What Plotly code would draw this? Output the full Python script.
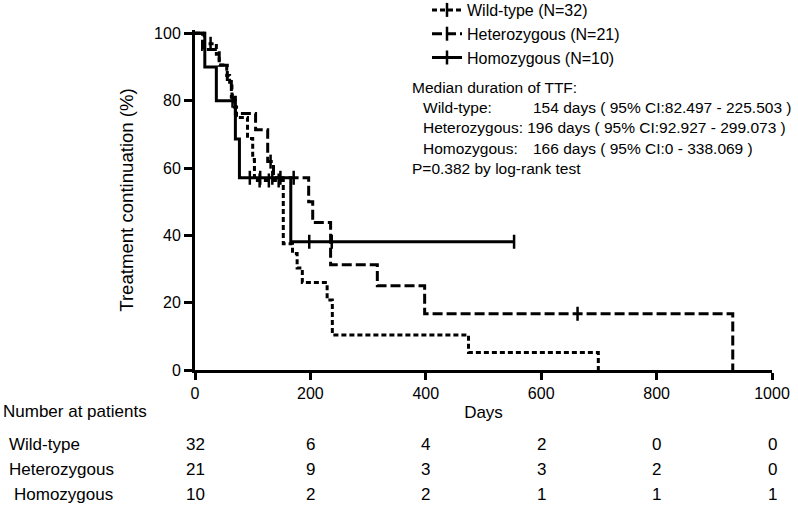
import plotly.graph_objects as go

# ---------------- data ----------------
wt_days = [0, 16, 37, 42, 55, 60, 64, 68, 72, 91, 100, 103, 153, 169, 177, 186, 229, 238, 474, 699]
wt_surv = [100, 96.9, 93.8, 90.6, 87.5, 84.4, 81.3, 78.1, 75.0, 68.8, 62.5, 56.3, 37.5, 34.6, 30.3, 26.0, 20.8, 10.4, 5.2, 0]
wt_cens_days = [27, 112, 128, 145]
wt_cens_surv = [96.9, 56.3, 56.3, 56.3]

het_days = [0, 13, 42, 56, 63, 70, 105, 126, 136, 197, 204, 235, 316, 398, 932]
het_surv = [100, 95.2, 90.5, 85.7, 81.0, 76.2, 71.4, 61.9, 57.1, 50.0, 43.8, 31.3, 25.0, 16.7, 0]
het_cens_days = [131, 148, 171, 663]
het_cens_surv = [61.9, 57.1, 57.1, 16.7]

homo_days = [0, 17, 37, 70, 77, 166, 553]
homo_surv = [100, 90, 80, 68.6, 57.1, 38.1, 38.1]
homo_cens_days = [65, 95, 113, 134, 198, 237, 553]
homo_cens_surv = [80, 57.1, 57.1, 57.1, 38.1, 38.1, 38.1]

group_names = ["Wild-type (N=32)", "Heterozygous (N=21)", "Homozygous (N=10)"]
row_labels = ["Wild-type", "Heterozygous", "Homozygous"]
risk_times = [0, 200, 400, 600, 800, 1000]
risk_wt = [32, 6, 4, 2, 0, 0]
risk_het = [21, 9, 3, 3, 2, 0]
risk_homo = [10, 2, 2, 1, 1, 1]

median_lines = [
    ("Wild-type:", "154 days ( 95% CI:82.497 - 225.503 )"),
    ("Heterozygous: 196 days ( 95% CI:92.927 - 299.073 )", ""),
    ("Homozygous:", "166 days ( 95% CI:0 - 338.069 )"),
]

FONT = "Arial, Liberation Sans, sans-serif"
dashes = ["5px,3px", "10px,4px", "solid"]
series = [
    (wt_days, wt_surv, wt_cens_days, wt_cens_surv),
    (het_days, het_surv, het_cens_days, het_cens_surv),
    (homo_days, homo_surv, homo_cens_days, homo_cens_surv),
]

fig = go.Figure()
for (d, s, cd, cs), dash in zip(series, dashes):
    fig.add_trace(go.Scatter(x=d, y=s, mode="lines", line=dict(color="black", width=3, dash=dash, shape="hv"),
                             showlegend=False, hoverinfo="skip"))
    fig.add_trace(go.Scatter(x=cd, y=cs, mode="markers", showlegend=False, cliponaxis=False,
                             marker=dict(symbol="line-ns", size=10, line=dict(color="black", width=2.5))))
# legend entries
for name, dash in zip(group_names, dashes):
    fig.add_trace(go.Scatter(x=[None], y=[None], mode="lines+markers", name=name,
                             line=dict(color="black", width=3, dash=dash),
                             marker=dict(symbol="line-ns", size=10, color="black", line=dict(color="black", width=2.5))))

# plot geometry helpers (for paper coords of text)
L, R, T, B = 195, 772, 30, 370
def px2x(px):
    return (px - L) / (R - L)
def py2y(py):
    return (B - py) / (B - T)

ann = []
ann.append(dict(x=px2x(410), y=py2y(88), text="Median duration of TTF:"))
ann.append(dict(x=px2x(421), y=py2y(108), text=median_lines[0][0]))
ann.append(dict(x=px2x(531), y=py2y(108), text=median_lines[0][1]))
ann.append(dict(x=px2x(421), y=py2y(128), text=median_lines[1][0]))
ann.append(dict(x=px2x(421), y=py2y(148), text=median_lines[2][0]))
ann.append(dict(x=px2x(531), y=py2y(148), text=median_lines[2][1]))
ann.append(dict(x=px2x(410), y=py2y(168), text="P=0.382 by log-rank test"))
for a in ann:
    a.update(xref="paper", yref="paper", xanchor="left", yanchor="middle", showarrow=False,
             font=dict(family=FONT, size=15.5, color="black"))

tab = []
tab.append(dict(x=px2x(1), y=py2y(411), xref="paper", text="Number at patients", xanchor="left"))
row_y = [444, 469, 494]
row_x = [7, 7, 12]
for lab, vals, ry, rx in zip(row_labels, [risk_wt, risk_het, risk_homo], row_y, row_x):
    tab.append(dict(x=px2x(rx), y=py2y(ry), xref="paper", text=lab, xanchor="left"))
    for t, v in zip(risk_times, vals):
        tab.append(dict(x=t, y=py2y(ry), xref="x", text=str(v), xanchor="center"))
for a in tab:
    a.update(yref="paper", yanchor="middle", showarrow=False,
             font=dict(family=FONT, size=17, color="black"))

fig.update_layout(
    width=798, height=506,
    margin=dict(l=L, r=798 - R, t=T, b=506 - B, autoexpand=False),
    paper_bgcolor="white", plot_bgcolor="white",
    font=dict(family=FONT, size=16, color="black"),
    showlegend=True,
    legend=dict(x=px2x(427), y=py2y(-7), xanchor="left", yanchor="top",
                font=dict(family=FONT, size=16, color="black"), bgcolor="rgba(0,0,0,0)",
                itemwidth=30, tracegroupgap=0),
    annotations=ann + tab,
    xaxis=dict(range=[0, 1000], tickvals=risk_times, showgrid=False, zeroline=False, automargin=False,
               showline=True, linewidth=3, linecolor="black", ticks="outside", ticklen=7,
               tickwidth=2.5, tickcolor="black", tickfont=dict(size=16),
               title=dict(text="Days", font=dict(size=17), standoff=5)),
    yaxis=dict(range=[0, 101], tickvals=[0, 20, 40, 60, 80, 100], showgrid=False, zeroline=False, automargin=False,
               showline=True, linewidth=3, linecolor="black", ticks="outside", ticklen=8,
               tickwidth=2.5, tickcolor="black", tickfont=dict(size=16),
               title=dict(text="Treatment continuation (%)", font=dict(size=18.6), standoff=16)),
)

fig.write_html("out.html", config={"displayModeBar": False},
               post_script="document.body.style.margin='0';document.body.style.overflow='hidden';")
